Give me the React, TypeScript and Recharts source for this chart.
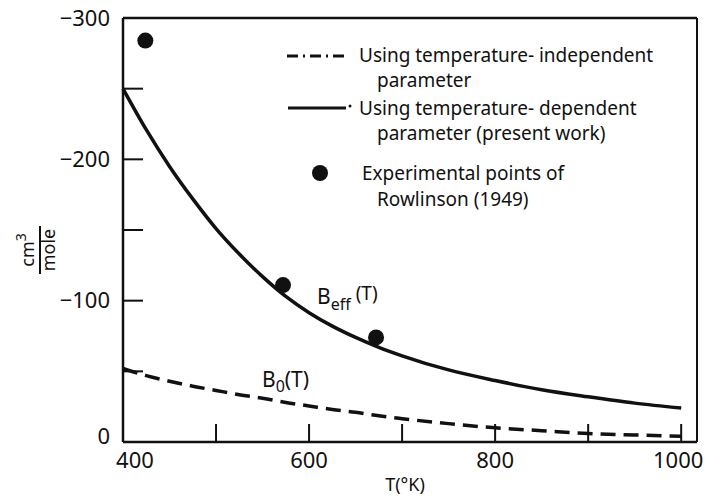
import React from 'react'
import { ComposedChart, Line, Scatter, XAxis, YAxis, ReferenceLine } from 'recharts'

// T in °K, second virial coefficient in cm3/mole (negative, plotted upward)
const temps = [400, 425, 450, 475, 500, 525, 550, 575, 600, 625, 650, 675, 700, 750, 800, 850, 900, 950, 1000]
const bEff = [-250, -221, -195, -172, -151, -133, -117, -103, -91.5, -82, -74, -67, -61, -51, -43.5, -37, -32, -27.5, -24]
const bZero = [-52, -47, -43, -39.5, -36.5, -33.5, -31, -28, -25.5, -23, -21, -18.5, -16.5, -13, -10, -8, -6, -5, -4]

// Rowlinson (1949)
const expT = [424, 572, 672]
const expB = [-284, -111, -74]

const xTicks = [400, 500, 600, 700, 800, 900, 1000]
const xLabels = [400, 600, 800, 1000]
const yTicks = [-300, -250, -200, -150, -100, -50, 0]
const yLabels = [-300, -200, -100, 0]

const curves = temps.map((t, i) => ({ T: t, eff: bEff[i], zero: bZero[i] }))
const points = expT.map((t, i) => ({ T: t, B: expB[i] }))

const font = "'Noto Sans', 'DejaVu Sans', sans-serif"
const ink = '#111'

const Dot = (p: any) => <circle cx={p.cx} cy={p.cy} r={8} fill={ink} />

const XTick = (p: any) => {
  const v = p.payload.value
  if (!xLabels.includes(v)) return <g />
  const shift = v === 400 ? 12 : v === 1000 ? -3 : 0
  return (
    <text x={p.x + shift} y={p.y} dy="0.71em" textAnchor="middle" fontSize={22} fontFamily={font} fill={ink}>
      {v}
    </text>
  )
}

const YTick = (p: any) => {
  const v = p.payload.value
  if (!yLabels.includes(v)) return <g />
  const shift = v === 0 ? -6 : 0
  return (
    <text x={p.x} y={p.y + shift} dy="0.355em" textAnchor="end" fontSize={22} fontFamily={font} fill={ink}>
      {String(v).replace('-', '\u2212')}
    </text>
  )
}

export default function App() {
  return (
    <div style={{ position: 'absolute', left: 0, top: 0, width: 706, height: 496, background: '#fff', fontFamily: font }}>
      <ComposedChart width={706} height={496} data={curves} margin={{ top: 18, right: 9, left: 0, bottom: 0 }}>
        <XAxis
          dataKey="T"
          type="number"
          domain={[400, 1017]}
          ticks={xTicks}
          height={54}
          tickSize={-18}
          tickMargin={28}
          axisLine={{ stroke: ink, strokeWidth: 2.5 }}
          tickLine={{ stroke: ink, strokeWidth: 2 }}
          tick={XTick}
        />
        <YAxis
          type="number"
          domain={[-300, 0]}
          reversed
          ticks={yTicks}
          width={123}
          tickSize={-20}
          tickMargin={33}
          axisLine={{ stroke: ink, strokeWidth: 2.5 }}
          tickLine={{ stroke: ink, strokeWidth: 2 }}
          tick={YTick}
        />
        <ReferenceLine y={-300} stroke={ink} strokeWidth={2.5} />
        <ReferenceLine x={1017} stroke={ink} strokeWidth={2} />
        <Line type="monotone" dataKey="zero" stroke={ink} strokeWidth={3.5} strokeDasharray="15 8" dot={false} isAnimationActive={false} />
        <Line type="monotone" dataKey="eff" stroke={ink} strokeWidth={3.5} dot={false} isAnimationActive={false} />
        <Scatter data={points} dataKey="B" shape={Dot} isAnimationActive={false} />
      </ComposedChart>

      <svg width={706} height={496} style={{ position: 'absolute', left: 0, top: 0, pointerEvents: 'none' }} fontFamily={font} fill={ink}>
        {/* legend */}
        <line x1={287} y1={56} x2={348} y2={56} stroke={ink} strokeWidth={3} strokeDasharray="11 5 2 5" />
        <text x={359} y={62} fontSize={19}>Using temperature- independent</text>
        <text x={377} y={87} fontSize={19}>parameter</text>
        <line x1={288} y1={108} x2={346} y2={108} stroke={ink} strokeWidth={3} />
        <circle cx={350} cy={106} r={1.5} fill={ink} />
        <text x={359} y={115} fontSize={19}>Using temperature- dependent</text>
        <text x={377} y={140} fontSize={19}>parameter (present work)</text>
        <circle cx={320} cy={173} r={8} fill={ink} />
        <text x={362} y={180} fontSize={19}>Experimental points of</text>
        <text x={377} y={206} fontSize={19}>Rowlinson (1949)</text>

        {/* curve labels */}
        <text x={317} y={304} fontSize={21}>
          B<tspan fontSize={16} dy={6}>eff</tspan>
          <tspan fontSize={19} dy={-10}> (T)</tspan>
        </text>
        <text x={262} y={387} fontSize={21}>
          B<tspan fontSize={16} dy={5}>0</tspan>
          <tspan dy={-5}>(T)</tspan>
        </text>

        {/* axis titles */}
        <text x={405} y={491} fontSize={18} textAnchor="middle">T(°K)</text>
        <g transform="rotate(-90 40 250)">
          <text x={40} y={244} fontSize={18} textAnchor="middle">
            cm<tspan fontSize={14} dy={-8}>3</tspan>
          </text>
          <line x1={16} y1={250} x2={64} y2={250} stroke={ink} strokeWidth={2} />
          <text x={40} y={265} fontSize={18} textAnchor="middle">mole</text>
        </g>
      </svg>
    </div>
  )
}
